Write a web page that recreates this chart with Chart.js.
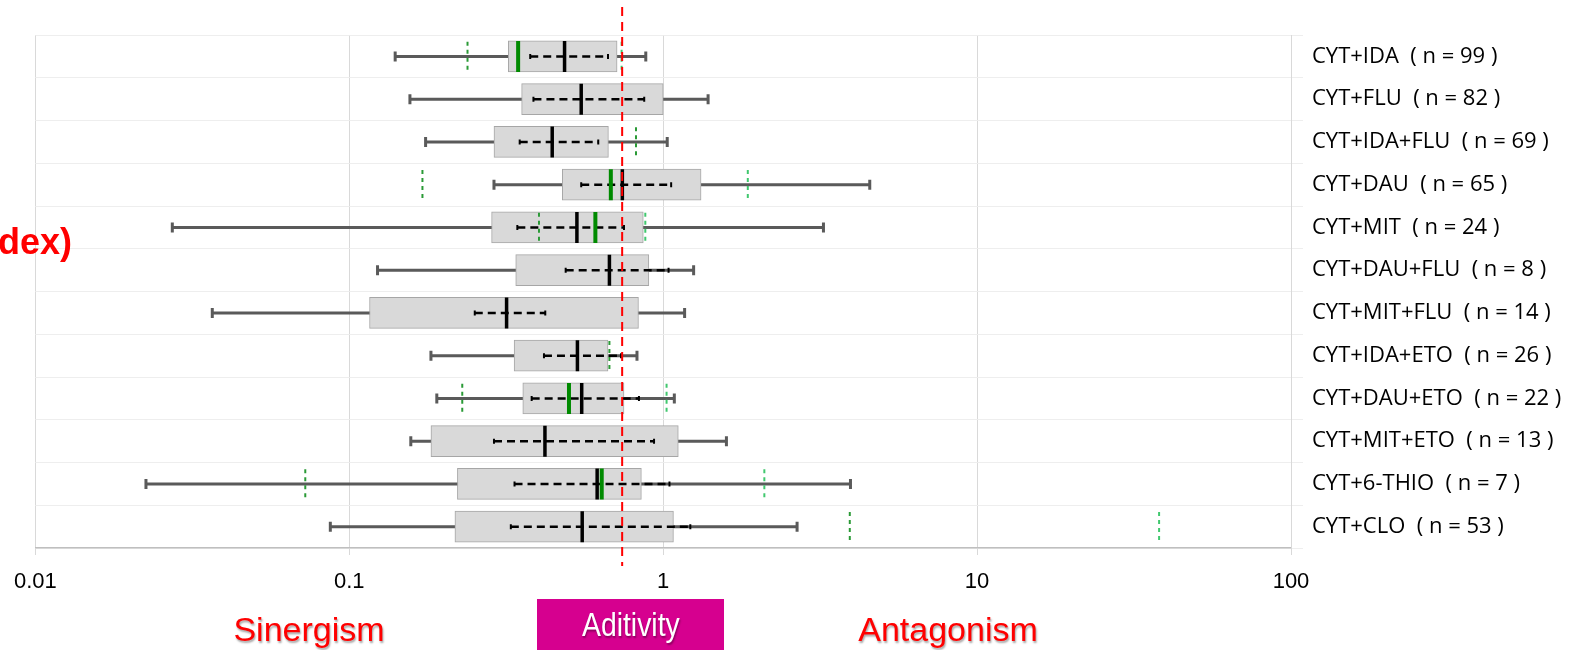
<!DOCTYPE html>
<html>
<head>
<meta charset="utf-8">
<script src="https://cdn.jsdelivr.net/npm/chart.js@4/dist/chart.umd.min.js"></script>
<style>
  html, body { margin: 0; padding: 0; background: #fff; }
  #wrap { position: relative; width: 1577px; height: 650px; overflow: hidden; }
  #chart { position: absolute; left: 0; top: 0; }
  .zone { position: absolute; font-family: "Liberation Sans", Arial, sans-serif; font-size: 34px; line-height: 34px;
          color: #ff0000; white-space: nowrap; text-align: center; text-shadow: 1px 2px 2px rgba(0,0,0,0.35); }
  #add { background: #d6008f; color: #fff; font-size: 33px; }
  #add span { display: inline-block; transform: scaleX(0.86); }
  #ci { position: absolute; right: 1505px; top: 224px; font: bold 36px "Liberation Sans", Arial, sans-serif;
        line-height: 36px; color: #ff0000; white-space: nowrap; }
</style>
</head>
<body>
<div id="wrap">
  <canvas id="chart" width="1577" height="650"></canvas>
  <div id="ci">dex)</div>
  <div class="zone" style="left:223px; top:612px; width:172px;">Sinergism</div>
  <div class="zone" id="add" style="left:537px; top:599px; width:187px; height:51px; line-height:51px;"><span>Aditivity</span></div>
  <div class="zone" style="left:850px; top:612px; width:196px;">Antagonism</div>
</div>
<script>
const drugs = ['CYT+IDA', 'CYT+FLU', 'CYT+IDA+FLU', 'CYT+DAU', 'CYT+MIT', 'CYT+DAU+FLU',
               'CYT+MIT+FLU', 'CYT+IDA+ETO', 'CYT+DAU+ETO', 'CYT+MIT+ETO', 'CYT+6-THIO', 'CYT+CLO'];
const nCases = [99, 82, 69, 65, 24, 8, 14, 26, 22, 13, 7, 53];

// box plot values (combination index, log scale)
const minCI    = [0.14, 0.156, 0.175, 0.289, 0.0273, 0.123, 0.0366, 0.182, 0.19, 0.157, 0.0225, 0.087];
const maxCI    = [0.88, 1.39, 1.03, 4.55, 3.24, 1.25, 1.17, 0.825, 1.085, 1.59, 3.95, 2.67];
const q1CI     = [0.321, 0.354, 0.289, 0.477, 0.284, 0.339, 0.116, 0.335, 0.357, 0.182, 0.221, 0.217];
const q3CI     = [0.713, 1.0, 0.669, 1.32, 0.864, 0.90, 0.834, 0.667, 0.75, 1.117, 0.852, 1.078];
const medianCI = [0.485, 0.548, 0.443, 0.741, 0.531, 0.674, 0.317, 0.533, 0.55, 0.42, 0.616, 0.552];
const ciLow    = [0.377, 0.386, 0.349, 0.548, 0.343, 0.489, 0.251, 0.417, 0.381, 0.289, 0.336, 0.327];
const ciHigh   = [0.667, 0.87, 0.621, 1.06, 0.75, 1.04, 0.421, 0.734, 0.837, 0.935, 1.047, 1.22];

// green markers
const greenMedian = [0.345, null, null, 0.681, 0.608, null, null, null, 0.501, null, 0.637, null];
const greenLow    = [0.238, null, 0.819, 0.171, 0.402, null, null, 0.674, 0.229, null, 0.0724, 3.93];
const greenHigh   = [0.737, null, null, 1.86, 0.877, null, null, null, 1.025, null, 2.10, 38];

const xTicks = [0.01, 0.1, 1, 10, 100];
const xTickLabels = ['0.01', '0.1', '1', '10', '100'];
const additivity = 0.74;

const rowLabels = drugs.map((d, i) => `${d}\u00a0\u00a0( n = ${nCases[i]} )`);

function segments(lo, hi) {
    const pts = [];
    lo.forEach((v, i) => {
        if (v == null) return;
        pts.push({ x: v, y: i }, { x: hi[i], y: i }, { x: null, y: i });
    });
    return pts;
}

function vticks(vals, half) {
    const pts = [];
    vals.forEach((v, i) => {
        if (v == null) return;
        pts.push({ x: v, y: i - half }, { x: v, y: i + half }, { x: null, y: i });
    });
    return pts;
}

function marks(vals) {
    return vals.map((v, i) => v == null ? null : { x: v, y: i }).filter(p => p);
}

const redLine = {
    id: 'redLine',
    afterDatasetsDraw(chart) {
        const ctx = chart.ctx;
        const x = chart.scales.x.getPixelForValue(additivity);
        ctx.save();
        ctx.strokeStyle = '#ff0000';
        ctx.lineWidth = 2;
        ctx.setLineDash([9, 6]);
        ctx.beginPath();
        ctx.moveTo(x, 7);
        ctx.lineTo(x, 566);
        ctx.stroke();
        ctx.restore();
    }
};

new Chart(document.getElementById('chart'), {
    type: 'bar',
    data: {
        datasets: [
            {
                type: 'line', order: 6, data: segments(minCI, maxCI),
                borderColor: '#5a5a5a', borderWidth: 3,
                pointStyle: 'line', pointRotation: 90, pointRadius: 5,
                pointBorderColor: '#5a5a5a', pointBorderWidth: 3
            },
            {
                type: 'bar', order: 5,
                data: q1CI.map((q, i) => ({ x: [q, q3CI[i]], y: i })),
                backgroundColor: '#d9d9d9', borderColor: '#a6a6a6', borderWidth: 1,
                borderSkipped: false, barThickness: 31
            },
            {
                type: 'line', order: 4, data: segments(ciLow, ciHigh),
                borderColor: '#000', borderWidth: 2.5, borderDash: [8, 5],
                pointStyle: 'line', pointRotation: 90, pointRadius: 2.5,
                pointBorderColor: '#000', pointBorderWidth: 2
            },
            {
                type: 'line', order: 3, data: vticks(greenLow, 0.34),
                borderColor: '#2a9a36', borderWidth: 2, borderDash: [4, 4], pointRadius: 0
            },
            {
                type: 'line', order: 3, data: vticks(greenHigh, 0.34),
                borderColor: '#40c86e', borderWidth: 2, borderDash: [4, 4], pointRadius: 0
            },
            {
                type: 'line', order: 2, showLine: false, data: marks(medianCI),
                pointStyle: 'line', pointRotation: 90, pointRadius: 15.5,
                pointBorderColor: '#000', pointBorderWidth: 3.5
            },
            {
                type: 'line', order: 1, showLine: false, data: marks(greenMedian),
                pointStyle: 'line', pointRotation: 90, pointRadius: 15.5,
                pointBorderColor: '#008a00', pointBorderWidth: 4
            }
        ]
    },
    options: {
        indexAxis: 'y',
        responsive: false,
        animation: false,
        devicePixelRatio: 1,
        layout: { padding: { left: 35, top: 35, right: 0, bottom: 0 } },
        plugins: { legend: { display: false }, tooltip: { enabled: false } },
        scales: {
            x: {
                type: 'logarithmic', min: 0.01, max: 100,
                afterBuildTicks: s => { s.ticks = xTicks.map(v => ({ value: v })); },
                afterFit: s => { s.height = 102; },
                ticks: {
                    callback: (v, i) => xTickLabels[i], autoSkip: false, maxRotation: 0,
                    font: { family: 'Liberation Sans', size: 22 }, color: '#000', padding: 14
                },
                grid: { color: '#d9d9d9', tickLength: 7 },
                border: { color: '#bfbfbf', width: 1.5 }
            },
            y: {
                type: 'linear', position: 'right', reverse: true, min: -0.5, max: 11.5, offset: false,
                afterBuildTicks: s => { s.ticks = drugs.map((d, i) => ({ value: i })); },
                afterFit: s => { s.width = 286; },
                ticks: {
                    callback: v => rowLabels[v], autoSkip: false,
                    font: { family: 'Open Sans', size: 22 }, color: '#000', padding: 9
                },
                grid: { offset: true, color: '#eeeeee', tickLength: 12 },
                border: { color: '#d9d9d9' }
            }
        }
    },
    plugins: [redLine]
});
</script>
</body>
</html>
